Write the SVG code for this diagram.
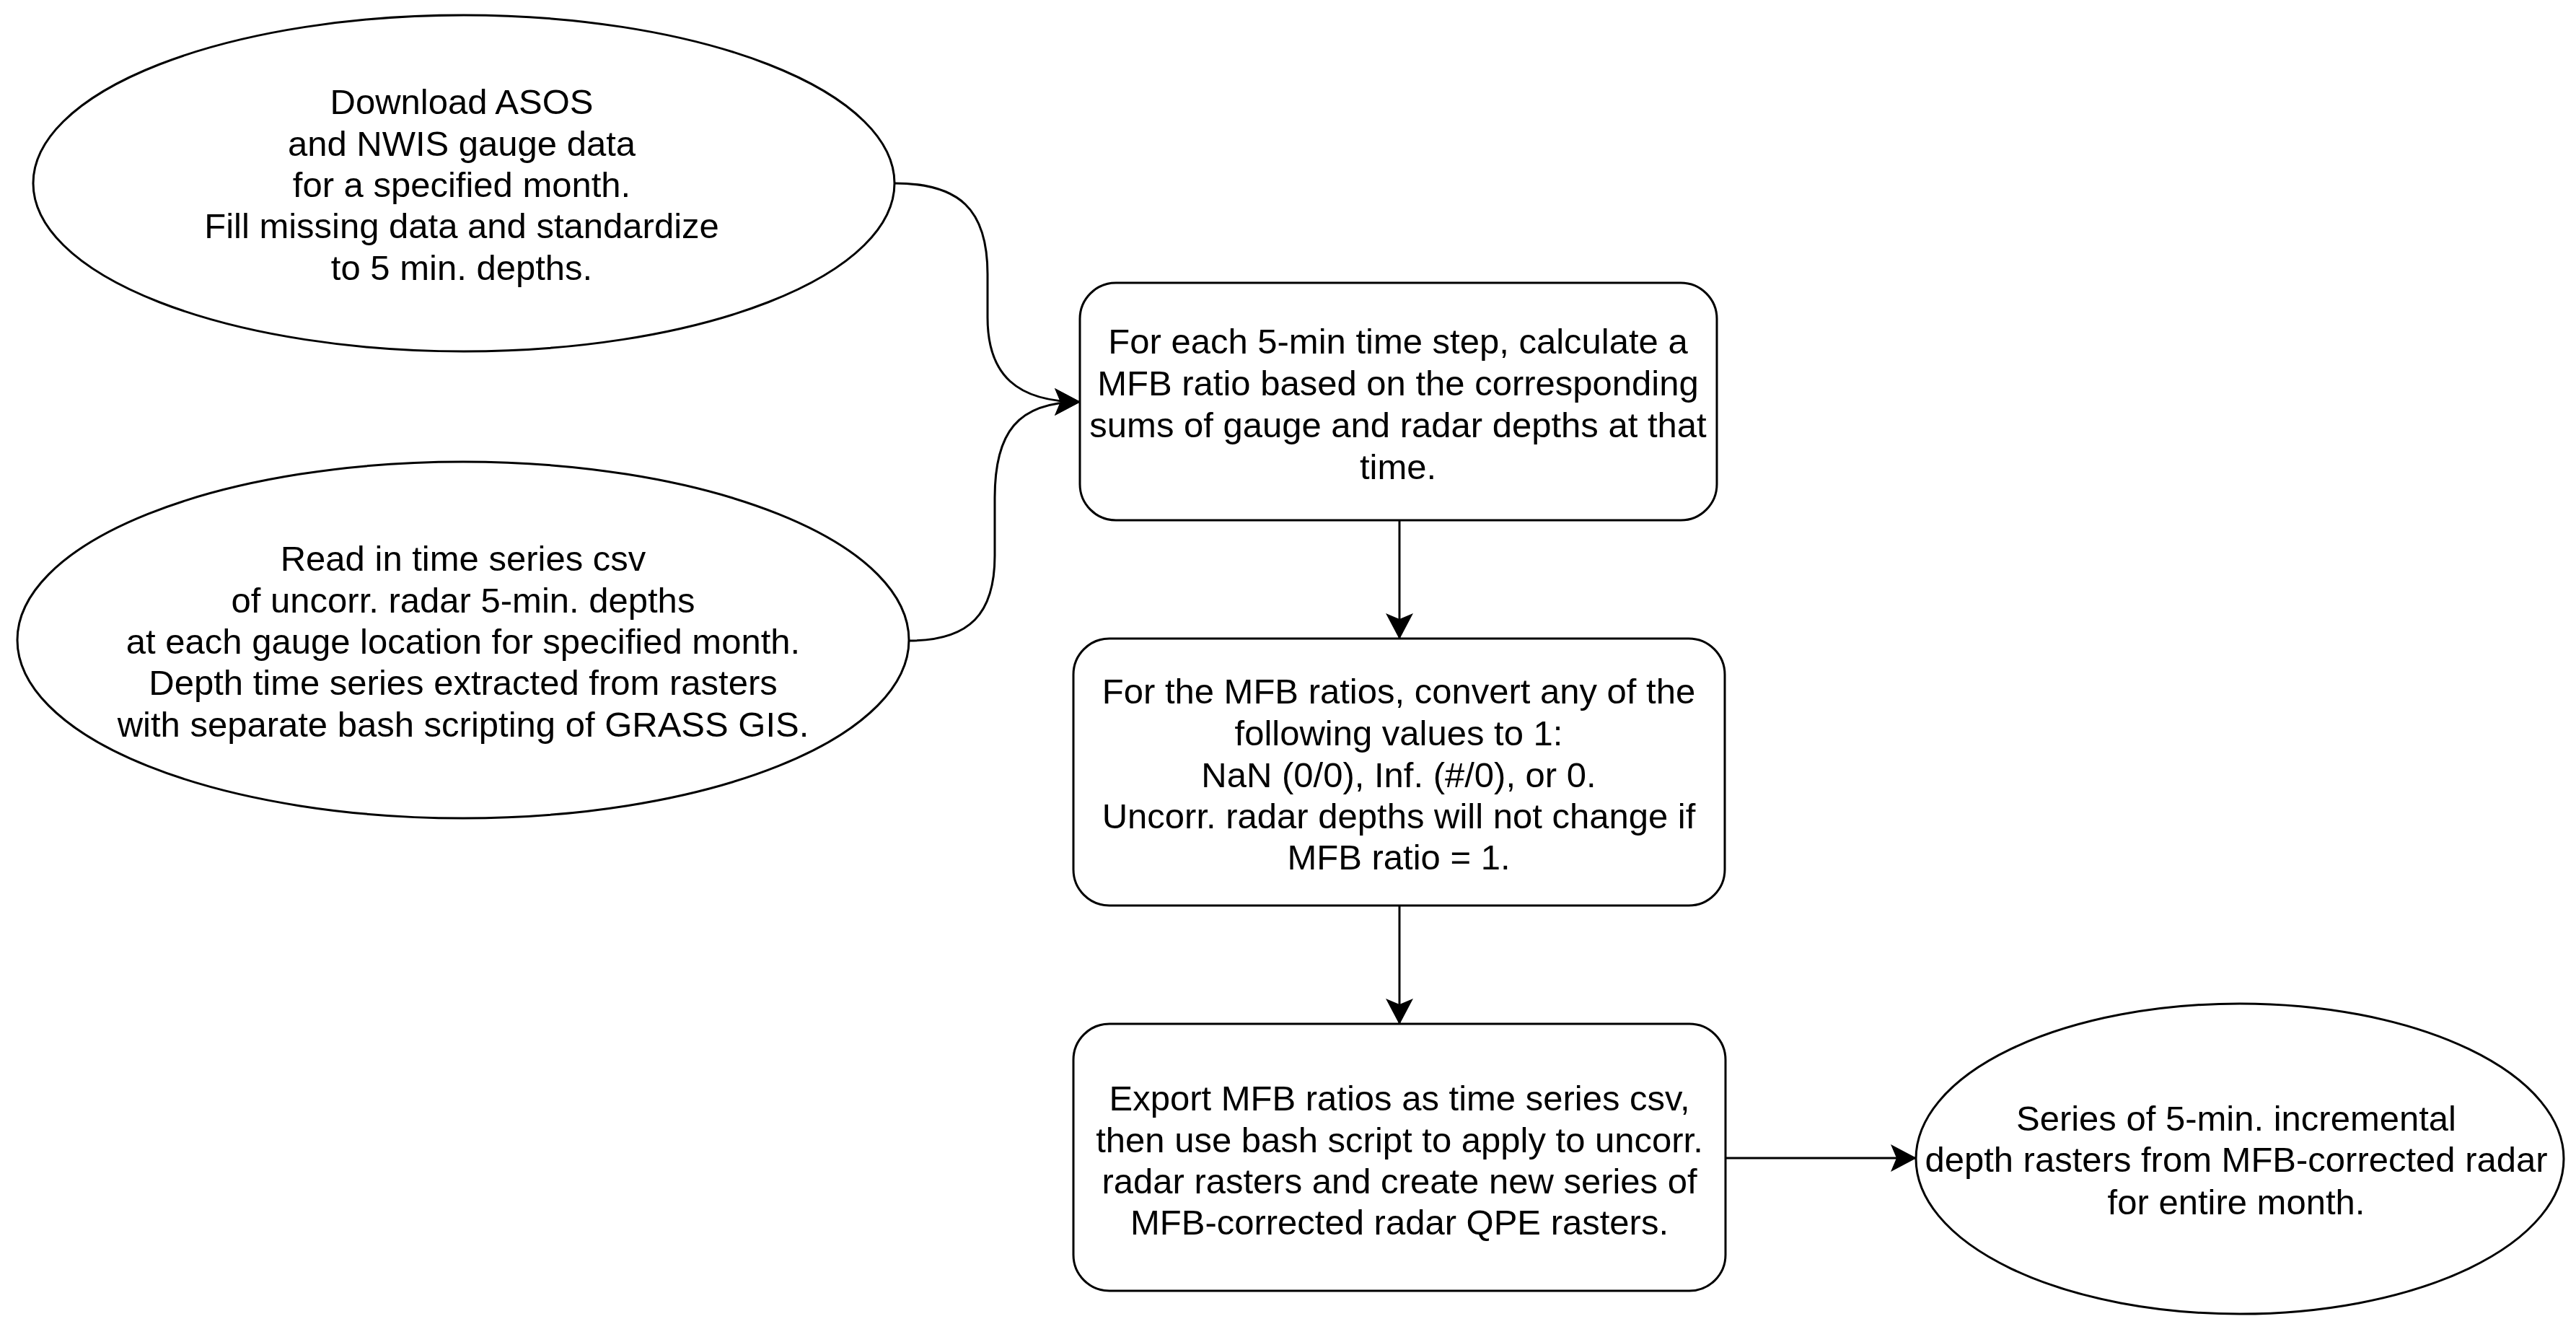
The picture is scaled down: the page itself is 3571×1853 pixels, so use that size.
<svg xmlns="http://www.w3.org/2000/svg" width="3571" height="1853" viewBox="0 0 3571 1853">
<style>
.shape{fill:#ffffff;stroke:#000000;stroke-width:3}
.edge{fill:none;stroke:#000000;stroke-width:3}
.lbl{font-family:"Liberation Sans",Arial,Helvetica,sans-serif;font-size:49px;fill:#000000;text-anchor:middle}
</style>
<defs>
<marker id="arrow" markerUnits="userSpaceOnUse" viewBox="0 0 36 38" markerWidth="36" markerHeight="38" refX="35" refY="19" orient="auto">
<path d="M0,0 L36,19 L0,38 L8,19 Z" fill="#000000"/>
</marker>
</defs>
<rect width="3571" height="1853" fill="#ffffff"/>
<g id="connectors">
<path class="edge" d="M1240,254 C1330,254 1369,290 1369,380 L1369,440 C1369,520 1410,557 1497,557" marker-end="url(#arrow)"/>
<path class="edge" d="M1260,888 C1345,888 1379,850 1379,770 L1379,690 C1379,600 1410,557 1497,557" marker-end="url(#arrow)"/>
<path class="edge" d="M1940,721 L1940,885" marker-end="url(#arrow)"/>
<path class="edge" d="M1940,1255 L1940,1419" marker-end="url(#arrow)"/>
<path class="edge" d="M2392,1605 L2656,1605" marker-end="url(#arrow)"/>
</g>
<g id="node-download">
<ellipse class="shape" cx="643" cy="254" rx="597" ry="233"/>
<text class="lbl" x="640"><tspan x="640" y="158">Download ASOS</tspan><tspan x="640" y="216">and NWIS gauge data</tspan><tspan x="640" y="273">for a specified month.</tspan><tspan x="640" y="330">Fill missing data and standardize</tspan><tspan x="640" y="388">to 5 min. depths.</tspan></text>
</g>
<g id="node-read">
<ellipse class="shape" cx="642" cy="887" rx="618" ry="247"/>
<text class="lbl" x="642"><tspan x="642" y="791">Read in time series csv</tspan><tspan x="642" y="849">of uncorr. radar 5-min. depths</tspan><tspan x="642" y="906">at each gauge location for specified month.</tspan><tspan x="642" y="963">Depth time series extracted from rasters</tspan><tspan x="642" y="1021">with separate bash scripting of GRASS GIS.</tspan></text>
</g>
<g id="node-mfb-ratio">
<rect class="shape" x="1497" y="392" width="883" height="329" rx="50" ry="50"/>
<text class="lbl" x="1938"><tspan x="1938" y="490">For each 5-min time step, calculate a</tspan><tspan x="1938" y="548">MFB ratio based on the corresponding</tspan><tspan x="1938" y="606">sums of gauge and radar depths at that</tspan><tspan x="1938" y="664">time.</tspan></text>
</g>
<g id="node-convert">
<rect class="shape" x="1488" y="885" width="903" height="370" rx="50" ry="50"/>
<text class="lbl" x="1939"><tspan x="1939" y="975">For the MFB ratios, convert any of the</tspan><tspan x="1939" y="1033">following values to 1:</tspan><tspan x="1939" y="1091">NaN (0/0), Inf. (#/0), or 0.</tspan><tspan x="1939" y="1148">Uncorr. radar depths will not change if</tspan><tspan x="1939" y="1205">MFB ratio = 1.</tspan></text>
</g>
<g id="node-export">
<rect class="shape" x="1488" y="1419" width="904" height="370" rx="50" ry="50"/>
<text class="lbl" x="1940"><tspan x="1940" y="1539">Export MFB ratios as time series csv,</tspan><tspan x="1940" y="1597">then use bash script to apply to uncorr.</tspan><tspan x="1940" y="1654">radar rasters and create new series of</tspan><tspan x="1940" y="1711">MFB-corrected radar QPE rasters.</tspan></text>
</g>
<g id="node-output">
<ellipse class="shape" cx="3105" cy="1606" rx="449" ry="215"/>
<text class="lbl" x="3100"><tspan x="3100" y="1567">Series of 5-min. incremental</tspan><tspan x="3100" y="1624">depth rasters from MFB-corrected radar</tspan><tspan x="3100" y="1683">for entire month.</tspan></text>
</g>
</svg>
